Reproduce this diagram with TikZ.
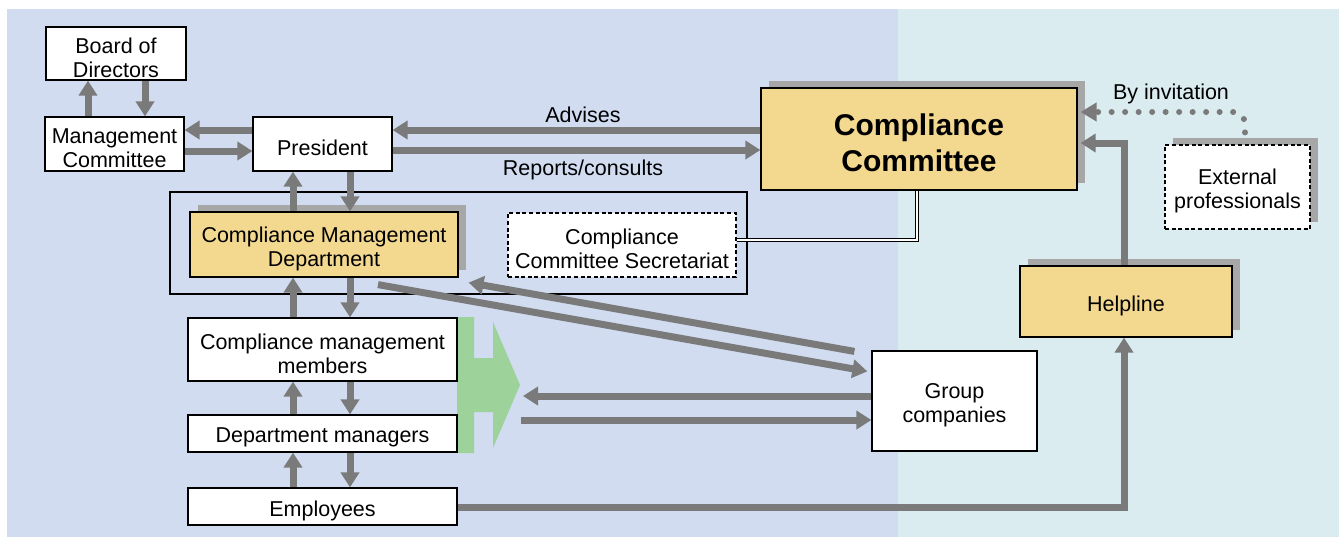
\documentclass[tikz,border=0pt]{standalone}
\usepackage{fontspec}
\setmainfont{Liberation Sans}
\usetikzlibrary{arrows.meta,shadows,calc}
\definecolor{bgleft}{HTML}{D1DCF0}
\definecolor{bgright}{HTML}{DBECF0}
\definecolor{boxyellow}{HTML}{F3D98F}
\definecolor{arrowgray}{HTML}{7A7A7A}
\definecolor{shadowgray}{HTML}{A7A7A7}
\definecolor{greenarrow}{HTML}{9DD39B}
\tikzset{
  lab/.style={font=\fontsize{10.75pt}{12pt}\selectfont, inner sep=0pt},
  box/.style={draw=black, line width=0.6pt, fill=white, inner sep=0pt},
  txt/.style={label={[lab, align=center, yshift=-2pt]center:#1}},
  bigtxt/.style={label={[lab, align=center, yshift=-2pt, font=\bfseries\fontsize{15pt}{18pt}\selectfont]center:#1}},
  ybox/.style={box, fill=boxyellow},
  dbox/.style={box, dash pattern=on 2pt off 1.3pt},
  shad/.style={general shadow={fill=shadowgray, shadow xshift=3.75pt, shadow yshift=3.5pt}},
  arr/.style={draw=arrowgray, line width=3.5pt, -{Triangle[width=9pt,length=7.5pt]}},
  dotarr/.style={draw=arrowgray, line width=3pt, line cap=round, dash pattern=on 0pt off 6.75pt,
    -{Triangle[width=9pt,length=8pt]}},
  dline/.style={draw=black, line width=0.6pt, double=white, double distance=1.2pt}
}
\begin{document}
\begin{tikzpicture}[x=0.5pt,y=-0.5pt]
\useasboundingbox (0,0) rectangle (1339,537);
% background panels
\fill[bgleft] (7,9) rectangle (898,537);
\fill[bgright] (898,9) rectangle (1339,537);
% outer group box
\node[draw=black, line width=0.6pt, minimum width=288.5pt, minimum height=51pt, inner sep=0pt] (grp) at (458.5,243) {};
% green arrow
\fill[greenarrow] (457,317) -- (474,317) -- (474,358) -- (493,358) -- (493,322) -- (520,385)
  -- (493,448) -- (493,412) -- (474,412) -- (474,453) -- (457,453) -- cycle;
\coordinate (gtip) at (520,385);
% nodes
\node[box, minimum width=70pt, minimum height=26.5pt, txt={Board of\\Directors}] (bod) at (116,53.5) {};
\node[box, minimum width=69.5pt, minimum height=27pt, txt={Management\\Committee}] (mc) at (114.5,144) {};
\node[box, minimum width=69.5pt, minimum height=27pt, txt={President}] (pres) at (322.5,144) {};
\node[ybox, shad, minimum width=134pt, minimum height=32.5pt, txt={Compliance Management\\Department}] (cmd) at (324,244.5) {};
\node[dbox, minimum width=114pt, minimum height=32pt, txt={Compliance\\Committee Secretariat}] (sec) at (622,245) {};
\node[ybox, shad, minimum width=158pt, minimum height=51pt, bigtxt={Compliance\\Committee}] (cc) at (919,139) {};
\node[dbox, shad, minimum width=72.5pt, minimum height=42pt, txt={External\\professionals}] (ext) at (1237.5,187) {};
\node[ybox, shad, minimum width=106pt, minimum height=35.5pt, txt={Helpline}] (help) at (1126,301.5) {};
\node[box, minimum width=134.5pt, minimum height=31.5pt, txt={Compliance management\\members}] (cmm) at (322.5,349.5) {};
\node[box, minimum width=134.5pt, minimum height=18.5pt, txt={Department managers}] (dm) at (322.5,433.5) {};
\node[box, minimum width=134.5pt, minimum height=18.5pt, txt={Employees}] (emp) at (322.5,506.5) {};
\node[box, minimum width=82.5pt, minimum height=50pt, txt={Group\\companies}] (gc) at (954.5,401) {};
% arrows board / management / president
\draw[arr] (88,0 |- mc.north) -- (88,0 |- bod.south);
\draw[arr] (145,0 |- bod.south) -- (145,0 |- mc.north);
\draw[arr] (pres.west |- 0,130) -- (mc.east |- 0,130);
\draw[arr] (mc.east |- 0,151) -- (pres.west |- 0,151);
\draw[arr] (cc.west |- 0,130) -- (pres.east |- 0,130);
\draw[arr] (pres.east |- 0,150) -- (cc.west |- 0,150);
\node[lab] (advises) at (583,115) {Advises};
\node[lab] (reports) at (583,170) {Reports/consults};
% vertical chain
\draw[arr] (293,0 |- cmd.north) -- (293,0 |- pres.south);
\draw[arr] (350,0 |- pres.south) -- (350,0 |- cmd.north);
\draw[arr] (293,0 |- cmm.north) -- (293,0 |- cmd.south);
\draw[arr] (350,0 |- cmd.south) -- (350,0 |- cmm.north);
\draw[arr] (293,0 |- dm.north) -- (293,0 |- cmm.south);
\draw[arr] (350,0 |- cmm.south) -- (350,0 |- dm.north);
\draw[arr] (293,0 |- emp.north) -- (293,0 |- dm.south);
\draw[arr] (350,0 |- dm.south) -- (350,0 |- emp.north);
% employees to helpline, helpline to committee
\draw[arr] (emp.east |- 0,507) -| (1124,0 |- help.south);
\draw[arr] (1124,0 |- help.north) |- ($(cc.east |- 0,143)+(3,0)$);
% external professionals by invitation
\draw[dotarr, rounded corners=6pt] ($(1245,0 |- ext.north)+(0,-12)$) |- ($(cc.east |- 0,112)+(3,0)$);
\node[lab] (invite) at (1171,94) {By invitation};
% secretariat link
\draw[dline] (sec.east |- 0,240) -| (917,0 |- cc.south);
% diagonal links with group companies
\draw[arr] ($(gc.north west)+(-17,1)$) -- ($(cmd.south east)+(10,5)$);
\draw[arr] ($(cmd.south)+(54,7)$) -- ($(gc.north west)+(-4,21)$);
% horizontal links with group companies
\draw[arr] (gc.west |- 0,396) -- ($(gtip)+(3,11)$);
\draw[arr] ($(gtip)+(1,35)$) -- (gc.west |- 0,420);
\end{tikzpicture}
\end{document}
